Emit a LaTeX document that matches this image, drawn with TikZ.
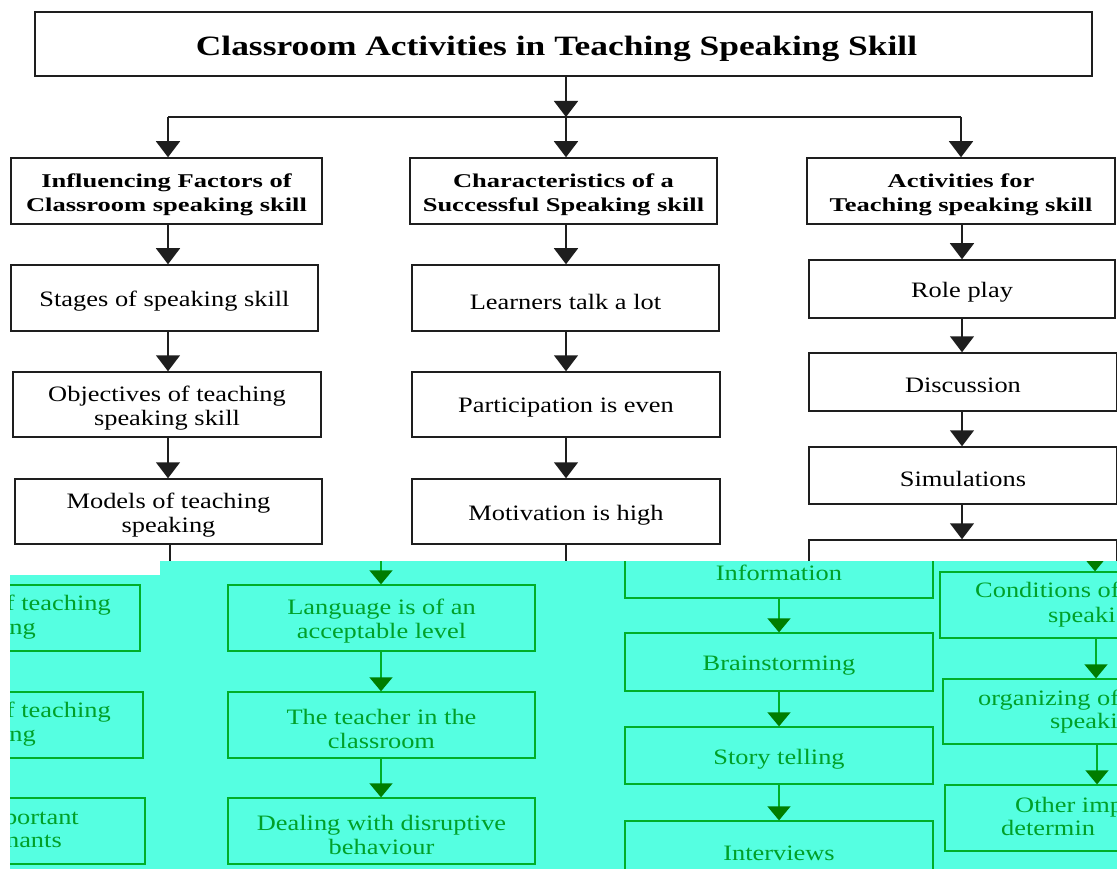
\documentclass[tikz,border=0pt]{standalone}
\usepackage{fontspec}
\usetikzlibrary{arrows.meta}
\newfontfamily\bodyfont{Liberation Serif}[FakeStretch=1.2]
\newfontfamily\headfont{Liberation Serif}[FakeStretch=1.36]
\newfontfamily\titlefont{Liberation Serif}[FakeStretch=1.265]
\definecolor{ink}{RGB}{30,30,30}
\definecolor{aqua}{RGB}{85,255,225}
\definecolor{gline}{RGB}{0,175,40}
\definecolor{ghead}{RGB}{0,125,0}
\definecolor{gtext}{RGB}{0,160,40}
\tikzset{
  frame/.style={draw=ink, line width=1.5pt, fill=white, inner sep=0pt},
  box/.style={frame, label={[btext]center:{#1}}},
  head/.style={frame, label={[htext]center:{#1}}},
  btext/.style={inner sep=0pt, align=center, yshift=-3.5pt,
    font=\bodyfont\fontsize{22}{24}\selectfont},
  htext/.style={inner sep=0pt, align=center, yshift=-4pt,
    font=\headfont\bfseries\fontsize{19.5}{24}\selectfont},
  gframe/.style={draw=gline, line width=1.3pt, inner sep=0pt},
  gbox/.style={gframe, label={[gtextstyle]center:{#1}}},
  gtextstyle/.style={btext, text=gtext},
  gfrag/.style={inner sep=0pt, text=gtext, font=\bodyfont\fontsize{22}{24}\selectfont},
  link/.style={draw=ink, line width=1.5pt, -{Triangle[length=16pt,width=24pt]}},
  bare/.style={draw=ink, line width=1.5pt},
  glink/.style={draw=gline, line width=1.3pt, -{Triangle[length=14pt,width=23pt,color=ghead]}},
}
\begin{document}
\begin{tikzpicture}[x=1pt,y=-1pt]
\fill[white] (0,0) rectangle (1117,869);
\useasboundingbox (0,0) rectangle (1117,869);

% ---- title and first level ----
\node[frame, minimum width=1057pt, minimum height=64pt,
  label={[inner sep=0pt, yshift=-5pt, xshift=-7pt,
    font=\titlefont\bfseries\fontsize{28}{30}\selectfont]center:{Classroom Activities in Teaching Speaking Skill}}]
  (title) at (563.5,44) {};

\coordinate (jL) at (168,117);
\coordinate (jC) at (566,117);
\coordinate (jR) at (961,117);

\node[head={Influencing Factors of\\Classroom speaking skill},
  minimum width=311pt, minimum height=66pt] (L1) at (166.5,191) {};
\node[head={Characteristics of a\\Successful Speaking skill},
  minimum width=307pt, minimum height=66pt] (M1) at (563.5,191) {};
\node[head={Activities for\\Teaching speaking skill},
  minimum width=308pt, minimum height=66pt] (R1) at (961,191) {};

\draw[link] (jC |- title.south) -- (jC);
\draw[bare] (jL) -- (jR);
\draw[link] (jL) -- (jL |- L1.north);
\draw[link] (jC) -- (jC |- M1.north);
\draw[link] (jR) -- (jR |- R1.north);

% ---- left column ----
\node[box={Stages of speaking skill}, minimum width=307pt, minimum height=66pt] (L2) at (164.5,298) {};
\node[box={Objectives of teaching\\speaking skill}, minimum width=308pt, minimum height=65pt] (L3) at (167,404.5) {};
\node[box={Models of teaching\\speaking}, minimum width=307pt, minimum height=65pt] (L4) at (168.5,511.5) {};
\coordinate (xL) at (168,0);
\coordinate (tailL) at (170,580);
\draw[link] (xL |- L1.south) -- (xL |- L2.north);
\draw[link] (xL |- L2.south) -- (xL |- L3.north);
\draw[link] (xL |- L3.south) -- (xL |- L4.north);
\draw[bare] (tailL |- L4.south) -- (tailL);

% ---- middle column ----
\node[box={Learners talk a lot}, minimum width=307pt, minimum height=66pt] (M2) at (565.5,298) {};
\node[box={Participation is even}, minimum width=308pt, minimum height=65pt] (M3) at (566,404.5) {};
\node[box={Motivation is high}, minimum width=308pt, minimum height=65pt] (M4) at (566,511.5) {};
\coordinate (xM) at (566,0);
\coordinate (tailM) at (566,580);
\draw[link] (xM |- M1.south) -- (xM |- M2.north);
\draw[link] (xM |- M2.south) -- (xM |- M3.north);
\draw[link] (xM |- M3.south) -- (xM |- M4.north);
\draw[bare] (M4.south) -- (tailM);

% ---- right column ----
\node[box={Role play}, minimum width=306pt, minimum height=58pt] (R2) at (962,289) {};
\node[box={Discussion}, minimum width=308pt, minimum height=58pt] (R3) at (963,382) {};
\node[box={Simulations}, minimum width=308pt, minimum height=57pt] (R4) at (963,475.5) {};
\node[frame, minimum width=308pt, minimum height=58pt] (R5) at (963,569) {};
\coordinate (xR) at (962,0);
\draw[link] (xR |- R1.south) -- (xR |- R2.north);
\draw[link] (xR |- R2.south) -- (xR |- R3.north);
\draw[link] (xR |- R3.south) -- (xR |- R4.north);
\draw[link] (xR |- R4.south) -- (xR |- R5.north);

% ---- aqua panel ----
\fill[aqua] (10,575) -- (160,575) -- (160,561) -- (1117,561) -- (1117,869) -- (10,869) -- cycle;

\begin{scope}
\clip (10,575) -- (160,575) -- (160,561) -- (1117,561) -- (1117,869) -- (10,869) -- cycle;

% left strip
\node[gframe, minimum width=308pt, minimum height=66pt] (A1) at (-14,618) {};
\node[gframe, minimum width=308pt, minimum height=66pt] (A2) at (-11,725) {};
\node[gframe, minimum width=308pt, minimum height=66pt] (A3) at (-9,831) {};
\node[gfrag, anchor=mid east] (a1a) at (111,608) {f teaching};
\node[gfrag, anchor=mid east] (a1b) at (36,632) {ng};
\node[gfrag, anchor=mid east] (a2a) at (111,715) {f teaching};
\node[gfrag, anchor=mid east] (a2b) at (36,739) {ng};
\node[gfrag, anchor=mid east] (a3a) at (79,822) {portant};
\node[gfrag, anchor=mid east] (a3b) at (62,845) {nants};

% column B
\node[gbox={Language is of an\\acceptable level}, minimum width=307pt, minimum height=66pt] (B1) at (381.5,618) {};
\node[gbox={The teacher in the\\classroom}, minimum width=307pt, minimum height=66pt] (B2) at (381.5,725) {};
\node[gbox={Dealing with disruptive\\behaviour}, minimum width=307pt, minimum height=66pt] (B3) at (381.5,831) {};
\coordinate (topB) at (381,561);
\draw[glink] (topB) -- (topB |- B1.north);
\draw[glink] (topB |- B1.south) -- (topB |- B2.north);
\draw[glink] (topB |- B2.south) -- (topB |- B3.north);

% column C
\node[gbox={Information}, minimum width=308pt, minimum height=58pt] (C0) at (779,569) {};
\node[gbox={Brainstorming}, minimum width=308pt, minimum height=58pt] (C1) at (779,662) {};
\node[gbox={Story telling}, minimum width=308pt, minimum height=57pt] (C2) at (779,755.5) {};
\node[gbox={Interviews}, minimum width=308pt, minimum height=58pt] (C3) at (779,850) {};
\draw[glink] (C0.south) -- (C1.north);
\draw[glink] (C1.south) -- (C2.north);
\draw[glink] (C2.south) -- (C3.north);

% right strip
\node[gframe, minimum width=308pt, minimum height=66pt] (D1) at (1094,605) {};
\node[gframe, minimum width=308pt, minimum height=65pt] (D2) at (1097,711.5) {};
\node[gframe, minimum width=308pt, minimum height=66pt] (D3) at (1099,818) {};
\node[gfrag, anchor=mid west] (d1a) at (975,595) {Conditions of};
\node[gfrag, anchor=mid west] (d1b) at (1048,620) {speaki};
\node[gfrag, anchor=mid west] (d2a) at (978,703) {organizing of};
\node[gfrag, anchor=mid west] (d2b) at (1050,726) {speaki};
\node[gfrag, anchor=mid west] (d3a) at (1015,810) {Other imp};
\node[gfrag, anchor=mid west] (d3b) at (1001,833) {determin};
\coordinate (topD) at (1095,561);
\coordinate (xD1) at (1096,0);
\coordinate (xD2) at (1097,0);
\draw[glink] (topD) -- (topD |- D1.north);
\draw[glink] (xD1 |- D1.south) -- (xD1 |- D2.north);
\draw[glink] (xD2 |- D2.south) -- (xD2 |- D3.north);
\end{scope}
\end{tikzpicture}
\end{document}
